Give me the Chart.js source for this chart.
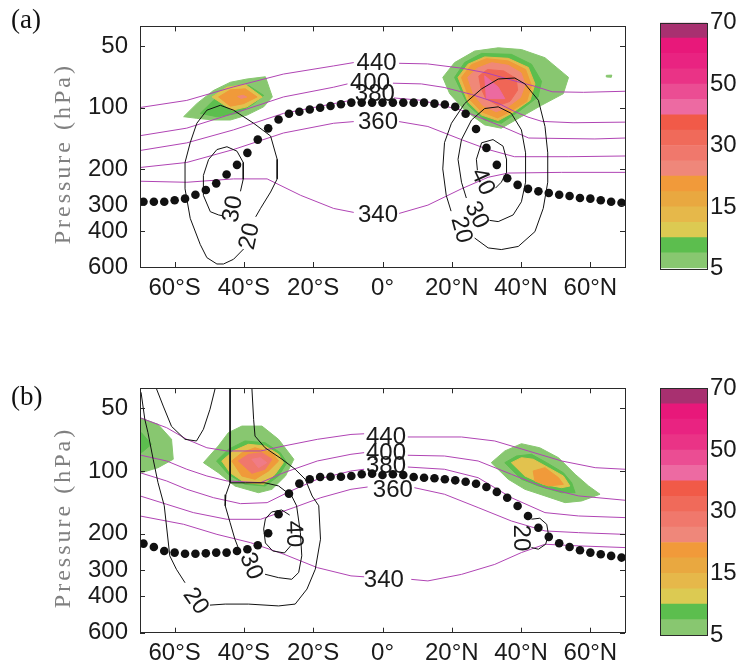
<!DOCTYPE html>
<html>
<head>
<meta charset="utf-8">
<script src="https://cdn.jsdelivr.net/npm/chart.js@4.4.1/dist/chart.umd.min.js"></script>
<style>
  body { margin: 0; background: #fff; }
  #wrap { position: relative; width: 741px; height: 669px; }
  canvas { position: absolute; }
</style>
</head>
<body>
<div id="wrap">
  <canvas id="mapA" width="650" height="320" style="left:0;top:0"></canvas>
  <canvas id="mapB" width="650" height="329" style="left:0;top:340px"></canvas>
  <canvas id="barA" width="101" height="300" style="left:640px;top:0"></canvas>
  <canvas id="barB" width="101" height="329" style="left:640px;top:340px"></canvas>
</div>
<script>
// axes
const latTicks = [-60, -40, -20, 0, 20, 40, 60];
const latTickLabels = ['60°S', '40°S', '20°S', '0°', '20°N', '40°N', '60°N'];
const presTicks = [50, 100, 200, 300, 400, 600];

// colour bar (bottom to top), labels sit on band edges
const cbColors = ['#88C770', '#5CBE4E', '#DCCA52', '#E6B84A', '#E9A840', '#F19A3A',
                  '#EF877A', '#F0786C', '#F06A5A', '#F15A48',
                  '#ED6AA2', '#EB4D93', '#EA3386', '#E92381', '#E8187A', '#A83070'];
const cbTickPos = [0, 4, 8, 12, 16];
const cbTickLabels = ['5', '15', '30', '50', '70'];

// tropopause (dots)
const tropLat = [-69, -66, -63, -60, -57, -54, -51, -48, -45, -42, -39, -36, -33, -30, -27, -24, -21, -18, -15, -12, -9, -6, -3,
                 0, 3, 6, 9, 12, 15, 18, 21, 24, 27, 30, 33, 36, 39, 42, 45, 48, 51, 54, 57, 60, 63, 66, 69];
const tropA = [288, 288, 288, 283, 278, 266, 252, 234, 212, 190, 166, 143, 126, 114, 107, 104.5, 102, 100, 98, 96, 94.3, 94.3, 94.3,
               94.3, 94.3, 94.3, 94.3, 94.3, 95.4, 96.4, 98.9, 107, 127, 157, 190, 221, 238, 249, 256, 261, 266, 270, 276, 278, 283, 288, 291];
const tropB = [223.6, 232, 242.5, 247, 250, 250, 249, 247, 247, 242.5, 238, 227.5, 199.4, 161.6, 128.5, 115, 109.6, 106.9, 106.5, 106.5, 105.7, 103.7, 103,
               104.5, 103.7, 104.5, 106.9, 107.7, 108.4, 109.6, 110.9, 112.6, 115.1, 119.4, 126.1, 134.4, 147.3, 164.6, 187.6, 207.5, 222.6, 232, 240.6, 247, 251.5, 256.2, 261];

// isentropes (K), [lat, hPa], split where the label sits
const thA440 = [[[-70, 99.7], [-56.5, 92], [-43, 79], [-28.6, 68.4], [-14.1, 62.4], [-8.3, 60.1]],
                [[4.8, 60.6], [13, 61], [22.8, 64], [30, 67.5], [37, 73], [44, 78.5], [49, 83.5], [58, 84], [70, 83]]];
const thA400 = [[[-70, 136.9], [-56.5, 125.7], [-43, 106.5], [-28.6, 88.5], [-14.1, 79.3], [-10.1, 76.4]],
                [[3, 75.8], [11.2, 76.4], [17.8, 79.5], [25.7, 86], [33.4, 95], [38, 104], [42, 111], [46, 116.5], [55, 118.3], [70, 117.5]]];
const thA380 = [[[-70, 161.7], [-56.5, 148.4], [-43, 128.2], [-28.6, 106.5], [-14.1, 95.4], [-9.1, 91.9]],
                [[3.3, 89.5], [11.2, 91.9], [22.8, 102.7], [34.3, 123], [42.2, 140.5], [61.3, 142], [70, 140.5]]];
const thA360 = [[[-70, 195.8], [-56.5, 185], [-43, 159.9], [-28.6, 132.8], [-14.1, 119], [-8.3, 116.8]],
                [[4.8, 116.8], [13.1, 123.4], [22.8, 143.1], [30.5, 159.9], [38.1, 173.4], [53.8, 173.4], [70, 172]]];
const thA340 = [[[-70, 228.5], [-56.5, 231.2], [-43, 222.6], [-33.3, 222.6], [-23.6, 267.9], [-14.1, 310.4], [-8.3, 324.6]],
                [[4.8, 328.3], [13.1, 299], [22.8, 248.8], [30.5, 218.5], [36.3, 208.4], [51.7, 206.8], [70, 206.8]]];

const thB440 = [[[-70, 55.4], [-62.3, 61.9], [-56.5, 70.4], [-50.7, 77.3], [-44.9, 80.1], [-35.2, 80.1], [-28.5, 75.8], [-18.8, 70.4], [-9.1, 66.7], [-5.3, 66.2]],
                [[7.3, 68.6], [22.8, 68.6], [32.4, 71.7], [42.1, 80.1], [51.7, 89.5], [61.4, 96.4], [70, 98.1]]];
const thB400 = [[[-70, 83.8], [-62.3, 89.5], [-56.5, 98.1], [-50.7, 105.7], [-44.9, 111.7], [-35.2, 113.8], [-28.5, 101.9], [-18.8, 89.5], [-9.1, 83.1], [-5.3, 81.6]],
                [[7.3, 84], [17.9, 84.7], [27.6, 89.5], [37.2, 103.7], [46.9, 120.3], [56.6, 131.8], [70, 138.3]]];
const thB380 = [[[-70, 101.9], [-62.3, 111.7], [-56.5, 122.5], [-48.8, 134.4], [-41, 143.6], [-33.3, 142], [-26.5, 124.8], [-18.8, 109.6], [-9.1, 100], [-5.3, 98.1]],
                [[7.3, 95.7], [17.9, 98.1], [27.6, 107.7], [37.2, 134.4], [46.9, 158.6], [56.6, 164.6], [70, 167.6]]];
const thB360 = [[[-70, 131.8], [-62.3, 144.6], [-54.6, 158.6], [-44.9, 170.8], [-35.2, 170.8], [-25.6, 150], [-17.8, 134.4], [-9.1, 122.5], [-4.3, 119.4]],
                [[9.2, 120.3], [17.9, 129.4], [27.6, 150], [37.2, 174], [46.9, 194.3], [56.6, 198], [70, 201.8]]];
const thB340 = [[[-70, 164.6], [-57.4, 180.5], [-47.8, 201.8], [-38.1, 221.2], [-28.5, 251.3], [-18.8, 291.8], [-9.1, 319.7], [-5.3, 323]],
                [[8.3, 332.3], [13.1, 338], [22.8, 314.4], [32.4, 281.5], [40.1, 246.9], [46.9, 225.2], [56.6, 229.3], [70, 233.6]]];

// zonal wind contours (m/s)
const uA_S20 = [[[-40.1, 490], [-43, 550], [-45.9, 580], [-47.8, 580], [-50.7, 540], [-52.6, 466], [-55.5, 347], [-57, 249], [-57, 185], [-55.5, 148],
                 [-53.6, 119], [-50.7, 102.7], [-46.8, 97.2], [-43, 102.7], [-37.2, 119], [-32.3, 137.4], [-30.4, 178.6], [-30.4, 222.6], [-32.3, 258],
                 [-35.2, 310], [-36.6, 341]]];
const uA_S30 = [[[-46.2, 337], [-47.3, 334], [-49.7, 322], [-51.7, 268], [-51.7, 214], [-50.2, 179], [-47.8, 160], [-44.9, 155], [-42, 163],
                 [-40.2, 185], [-40.2, 223], [-41, 256]]];
const uA_N20 = [[[26.6, 433], [30.5, 484], [34.3, 493], [39.2, 476], [44, 403], [46.4, 310], [47.7, 231], [47.7, 166], [46.9, 123.4], [45, 91.9],
                 [41.1, 76.4], [38.2, 71.5], [33.4, 72.3], [28.6, 80.8], [23.7, 95.4], [19.9, 119], [17.9, 148], [17.4, 199], [18.4, 268], [19.8, 320]]];
const uA_N30 = [[[30.9, 355], [33.4, 360], [37.7, 334], [40.1, 288], [41.3, 231], [41.3, 166], [40.1, 128.2], [37.2, 106.5], [33.4, 98.9],
                 [29.5, 100.8], [25.7, 114.7], [22.8, 143], [21.8, 178.6], [22.8, 231], [24.2, 276]]];
const uA_N40 = [[[27.4, 202], [27.1, 178.6], [28.6, 148.3], [31.9, 143], [34.8, 154], [35.8, 178.6], [35.8, 207], [34.3, 231], [32.6, 247]]];

const uB_S20 = [[[-69.7, 41.8], [-68.6, 56.5], [-67.7, 65.4], [-66.2, 87.8], [-64.8, 113.8], [-63, 147], [-61.4, 256], [-59.5, 297], [-57, 345]],
                [[-49.8, 442], [-45.4, 437], [-38.7, 437], [-30, 446], [-25.2, 437], [-21.8, 370], [-19.4, 297], [-17.9, 213], [-18.4, 147],
                 [-20.3, 132], [-22.3, 109.6], [-25.2, 98.1], [-29, 87.8], [-33.9, 77.3], [-36.8, 67.9], [-37.2, 56.5], [-37.7, 40]]];
const uB_S30 = [[[-44, 40], [-44, 57.5], [-44, 89.5], [-44, 114], [-45.2, 130], [-45.4, 147], [-44, 177], [-42.6, 213], [-41.1, 247]],
                [[-33.9, 314], [-30, 326], [-26.2, 332], [-24.2, 308], [-23.3, 256], [-23.7, 198], [-24.8, 147], [-26.2, 132], [-30, 118],
                 [-33.9, 114], [-39.6, 114], [-44, 114]]];
const uB_S40 = [[[-26.5, 229], [-28.3, 248], [-31.7, 242.5], [-33.8, 222], [-34.3, 190], [-33.8, 170], [-32, 157.5], [-29.1, 154], [-26.8, 163]],
                [[-65.3, 40], [-63.3, 48.7], [-60.9, 61], [-57, 70.4], [-53.7, 71.7], [-51.7, 63], [-49.8, 50.5], [-48.3, 40]]];
const uB_N20 = [[[43, 170.6], [45.4, 168.8], [47.4, 180.5], [47.9, 201.8], [47.1, 225.2], [45, 237.9], [43, 233.6]]];

// shaded wind-speed patches, outer level first
const spdA_S1 = [[-57.4, 110.5], [-53.6, 95.4], [-48.8, 82.3], [-43.9, 75], [-39.1, 72.3], [-33.8, 70.5], [-31.8, 88.5], [-34.3, 98.9], [-39.1, 108.5], [-43.9, 114.7], [-48.8, 114.7], [-53.6, 112.6]];
const spdA_S2 = [[-52.6, 106.5], [-48.8, 92], [-43.9, 80.8], [-38.6, 77.9], [-34.3, 87], [-37.2, 95.4], [-42, 106.5], [-47.8, 110.5]];
const spdA_S3 = [[-49.2, 88.5], [-44.9, 79.3], [-39.6, 77], [-34.7, 88.5], [-39.1, 98.9], [-43.4, 102.7]];
const spdA_S4 = [[-47.3, 88.5], [-43.9, 81.7], [-39.6, 80.8], [-36.2, 88.5], [-40.1, 95.4], [-43.9, 98.2]];
const spdA_S5 = [[-41.8, 88], [-40.2, 86.8], [-39.2, 88.6], [-40.8, 90]];

const spdA_N1 = [[17.4, 71], [20.8, 60.1], [26.6, 52.8], [33.4, 50.9], [40.1, 51.9], [46.9, 56.9], [53.7, 71], [52.2, 85.3], [45.9, 97.2], [40.1, 110.5], [34.3, 125.8], [29.5, 121.2], [23.7, 102.7], [19.4, 85.3]];
const spdA_N2 = [[20.8, 71], [23.7, 60.1], [28.6, 54.2], [37.2, 54.8], [43, 61.2], [45.9, 74.2], [44.9, 88.5], [39.2, 104.5], [34.3, 119], [29.5, 114.7], [24.7, 97.2]];
const spdA_N3 = [[21.8, 71], [24.7, 61.2], [29.5, 56.4], [36.3, 57.3], [42.1, 63.5], [44, 76.4], [42.6, 91.9], [37.2, 106.5], [33.4, 115.5], [28.6, 108.5], [24.7, 93.6]];
const spdA_N4 = [[22.8, 71], [25.7, 61.5], [30, 57.5], [36.3, 59], [41.3, 65], [43, 78], [41.6, 93], [36.8, 104.5], [33.2, 112], [28.6, 104.5], [25.2, 91]];
const spdA_N5 = [[24.6, 71], [27.4, 64], [31.5, 60.2], [36.3, 62], [40, 67.5], [41.2, 77], [39.8, 89], [35.8, 100], [32.8, 104.5], [29, 97.5], [26.3, 86]];
const spdA_N6 = [[27.8, 70], [30.3, 65], [35, 66], [38.6, 72], [39, 82], [36.8, 93], [33.4, 97.5], [29.8, 90], [28.4, 80]];
const spdA_N7 = [[29.5, 69.7], [30, 90.2], [35.3, 90.2], [33.4, 79.3]];
const spdA_N8 = [[64.6, 69.4], [66.2, 69.2], [66, 70.9], [64.7, 70.7]];

const spdB_W1 = [[-72, 54], [-64.8, 59.6], [-60.9, 70.4], [-60.4, 87.8], [-64.8, 96.4], [-69.6, 101.9], [-72, 103]];
const spdB_W2 = [[-72, 62], [-69.6, 65.4], [-66.7, 74.4], [-69.6, 81.7], [-72, 84]];
const spdB_S1 = [[-51.7, 91.2], [-47.4, 75.8], [-44.5, 65.4], [-40.6, 60.8], [-34.8, 60.8], [-30, 70.4], [-25.6, 87.8], [-28, 105.7], [-31.9, 122.5], [-35.8, 127.2], [-42.6, 118.1], [-47.4, 101.9]];
const spdB_S2 = [[-47.9, 89.5], [-44.5, 78.7], [-39.7, 71.7], [-33.9, 73.1], [-29.5, 81.7], [-27.6, 91.2], [-30, 105.7], [-33.9, 118.1], [-39.7, 115.9], [-44.5, 103.7]];
const spdB_S3 = [[-46.4, 89.5], [-43, 80], [-38.7, 74.4], [-33.9, 75.8], [-30, 83.1], [-28.6, 91.2], [-31, 103.7], [-34.3, 115.9], [-39.7, 113.8], [-44, 101.9]];
const spdB_S4 = [[-43.5, 89.5], [-40.6, 81.7], [-36.8, 77.3], [-31.9, 81.7], [-30, 89.5], [-32.9, 100], [-36.8, 109.6], [-40.6, 105.7]];
const spdB_S5 = [[-41.6, 89.5], [-38.7, 83.1], [-34.8, 81.7], [-31.9, 87.8], [-33.9, 98.1], [-37.7, 102.6]];
const spdB_S6 = [[-37.7, 87.8], [-35.3, 86.3], [-33.4, 91.2], [-35.8, 96.4]];
const spdB_N1 = [[31.4, 91.2], [35.3, 80.1], [40.1, 73.9], [45.4, 77.3], [50.8, 86.3], [55.6, 103.7], [59.5, 118.1], [62.8, 129.4], [57.5, 139.4], [52.7, 142], [46.9, 131.8], [41.1, 122.5], [36.3, 109.6]];
const spdB_N2 = [[35.3, 91.2], [38.7, 84.7], [43, 83.1], [47.4, 91.2], [52.2, 101.9], [54.6, 113.8], [55.6, 127.2], [51.7, 127.2], [45, 118.1], [40.1, 109.6]];
const spdB_N3 = [[37.2, 91.2], [40.1, 86.3], [43.5, 87.8], [47.9, 96.4], [52.2, 105.7], [54.1, 118.1], [51.7, 120.3], [46.4, 115.9], [41.1, 105.7]];
const spdB_N4 = [[43.5, 100], [46.9, 96.4], [50.8, 107.7], [52.2, 115.9], [47.9, 118.1], [44, 111.7]];

// contour labels: [lat, hPa, text, angle]
const labelsA = [[-1.7, 59.9, '440', 0], [-3.6, 74.7, '400', 0], [-2.2, 85.3, '380', 0], [-1.3, 116.4, '360', 0], [-1.3, 333, '340', 0],
                 [-38.6, 424, '20', -78], [-43.4, 312, '30', -80], [29.1, 229, '40', 65], [27.4, 333, '30', 65], [23, 394, '20', 75]];
const labelsB = [[1, 67.9, '440', 0], [1, 81.6, '400', 0], [1, 93.6, '380', 0], [3, 122.5, '360', 0], [0.4, 332, '340', 0],
                 [-53.7, 421, '20', 55], [-37.7, 286, '30', 68], [-25.4, 201, '40', 88], [40.1, 210, '20', 90]];

const SANS = '"Liberation Sans", Arial, sans-serif';
const SERIF = '"Liberation Serif", "Times New Roman", serif';
const MAGENTA = '#B044B4';

function lineSets(segs, color, order) {
    return segs.map(s => ({
        data: s.map(p => ({x: p[0], y: p[1]})),
        borderColor: color, borderWidth: 1, pointRadius: 0,
        fill: false, tension: 0, order: order
    }));
}

function blobSet(pts, color, order) {
    const closed = pts.concat([pts[0]]);
    return {
        data: closed.map(p => ({x: p[0], y: p[1]})),
        borderColor: color, backgroundColor: color, borderWidth: 1,
        pointRadius: 0, fill: 'shape', tension: 0, order: order
    };
}

function tropSet(vals) {
    return {
        data: tropLat.map((v, i) => ({x: v, y: vals[i]})),
        showLine: false, pointRadius: 4.3, pointBorderWidth: 0,
        pointBackgroundColor: '#111', borderColor: '#111', order: 0, trop: true
    };
}

function drawLabels(chart, list) {
    const {ctx, scales: {x, y}} = chart;
    ctx.save();
    ctx.font = '24px ' + SANS;
    ctx.fillStyle = '#1a1a1a';
    ctx.textAlign = 'center';
    ctx.textBaseline = 'middle';
    list.forEach(l => {
        ctx.save();
        ctx.translate(x.getPixelForValue(l[0]), y.getPixelForValue(l[1]));
        ctx.rotate(l[3] * Math.PI / 180);
        ctx.fillText(l[2], 0, 1);
        ctx.restore();
    });
    ctx.restore();
}

const framePlugin = {
    id: 'frame',
    beforeDatasetDraw(chart, args, opts) {
        if (chart.data.datasets[args.index].trop) drawLabels(chart, opts.labels);
    },
    afterDatasetsDraw(chart, args, opts) {
        const {ctx, chartArea: a, scales: {x, y}} = chart;
        ctx.save();
        ctx.strokeStyle = '#2a2a2a';
        ctx.lineWidth = 1;
        ctx.strokeRect(Math.round(a.left) + 0.5, Math.round(a.top) + 0.5, Math.round(a.width), Math.round(a.height));
        ctx.beginPath();
        latTicks.forEach(v => {
            const px = Math.round(x.getPixelForValue(v)) + 0.5;
            ctx.moveTo(px, a.bottom); ctx.lineTo(px, a.bottom - 5);
            ctx.moveTo(px, a.top); ctx.lineTo(px, a.top + 5);
        });
        presTicks.forEach(v => {
            const py = Math.round(y.getPixelForValue(v)) + 0.5;
            ctx.moveTo(a.left, py); ctx.lineTo(a.left + 5, py);
            ctx.moveTo(a.right, py); ctx.lineTo(a.right - 5, py);
        });
        ctx.stroke();
        ctx.restore();

        // axis title
        ctx.save();
        ctx.fillStyle = '#808080';
        ctx.font = '24px ' + SERIF;
        ctx.letterSpacing = '3px';
        ctx.translate(64, (a.top + a.bottom) / 2 + 7);
        ctx.rotate(-Math.PI / 2);
        ctx.textAlign = 'center';
        ctx.textBaseline = 'middle';
        ctx.fillText('Pressure (hPa)', 0, 0);
        ctx.restore();

        // panel letter
        ctx.save();
        ctx.fillStyle = '#111';
        ctx.font = '27px ' + SERIF;
        ctx.textBaseline = 'middle';
        ctx.fillText(opts.letter, 11, opts.letterY);
        ctx.restore();
    }
};

function makeMap(id, datasets, padTop, xAxisH, xPad, labels, letter, letterY) {
    return new Chart(document.getElementById(id), {
        type: 'line',
        data: {datasets: datasets},
        options: {
            responsive: false,
            animation: false,
            events: [],
            layout: {padding: {left: 0, right: 25, top: padTop, bottom: 0}},
            plugins: {
                legend: {display: false},
                tooltip: {enabled: false},
                frame: {labels: labels, letter: letter, letterY: letterY}
            },
            scales: {
                x: {
                    type: 'linear', min: -70, max: 70,
                    grid: {display: false, drawTicks: false},
                    border: {display: false},
                    afterBuildTicks: s => { s.ticks = latTicks.map(v => ({value: v})); },
                    afterFit: s => { s.height = xAxisH; },
                    ticks: {
                        padding: xPad, maxRotation: 0, autoSkip: false, color: '#1a1a1a',
                        font: {family: SANS, size: 24},
                        callback: v => latTickLabels[latTicks.indexOf(v)]
                    }
                },
                y: {
                    type: 'logarithmic', reverse: true, min: 40, max: 600,
                    grid: {display: false, drawTicks: false},
                    border: {display: false},
                    afterBuildTicks: s => { s.ticks = presTicks.map(v => ({value: v})); },
                    afterFit: s => { s.width = 140; },
                    ticks: {
                        padding: 12, color: '#1a1a1a',
                        font: {family: SANS, size: 24},
                        callback: v => String(v)
                    }
                }
            }
        },
        plugins: [framePlugin]
    });
}

const barFrame = {
    id: 'barFrame',
    afterDatasetsDraw(chart) {
        const {ctx, chartArea: a} = chart;
        ctx.save();
        ctx.strokeStyle = '#2a2a2a';
        ctx.lineWidth = 1;
        ctx.strokeRect(Math.round(a.left) + 0.5, Math.round(a.top) + 0.5, Math.round(a.width), Math.round(a.height));
        ctx.restore();
    }
};

function makeBar(id, padTop, padBottom) {
    return new Chart(document.getElementById(id), {
        type: 'bar',
        data: {
            labels: [''],
            datasets: cbColors.map(c => ({
                data: [1], backgroundColor: c, borderWidth: 0,
                barPercentage: 1, categoryPercentage: 1, stack: 'cb'
            }))
        },
        options: {
            responsive: false,
            animation: false,
            events: [],
            layout: {padding: {left: 20, right: 0, top: padTop, bottom: padBottom}},
            plugins: {legend: {display: false}, tooltip: {enabled: false}},
            scales: {
                x: {display: false, stacked: true},
                y: {
                    stacked: true, position: 'right', min: 0, max: 16,
                    grid: {display: false, drawTicks: false},
                    border: {display: false},
                    afterBuildTicks: s => { s.ticks = cbTickPos.map(v => ({value: v})); },
                    afterFit: s => { s.width = 34; },
                    ticks: {
                        padding: 3, color: '#1a1a1a',
                        font: {family: SANS, size: 24},
                        callback: v => cbTickLabels[cbTickPos.indexOf(v)]
                    }
                }
            }
        },
        plugins: [barFrame]
    });
}

// panel (a)
const setsA = [tropSet(tropA)]
    .concat(lineSets(uA_S20, '#111', 3), lineSets(uA_S30, '#111', 3), lineSets(uA_N20, '#111', 3),
            lineSets(uA_N30, '#111', 3), lineSets(uA_N40, '#111', 3))
    .concat(lineSets(thA440, MAGENTA, 5), lineSets(thA400, MAGENTA, 5), lineSets(thA380, MAGENTA, 5),
            lineSets(thA360, MAGENTA, 5), lineSets(thA340, MAGENTA, 5))
    .concat([
        blobSet(spdA_S5, '#F08878', 21), blobSet(spdA_S4, '#F09A3A', 22), blobSet(spdA_S3, '#E2C24E', 23),
        blobSet(spdA_S2, '#5CBE4E', 24), blobSet(spdA_S1, '#88C770', 25),
        blobSet(spdA_N7, '#EC6AA0', 21), blobSet(spdA_N6, '#F06656', 22), blobSet(spdA_N5, '#F08878', 23),
        blobSet(spdA_N4, '#F09A3A', 24), blobSet(spdA_N3, '#E6B84A', 25), blobSet(spdA_N2, '#5CBE4E', 26),
        blobSet(spdA_N1, '#88C770', 27), blobSet(spdA_N8, '#88C770', 27)
    ]);

// panel (b)
const setsB = [tropSet(tropB)]
    .concat(lineSets(uB_S20, '#111', 3), lineSets(uB_S30, '#111', 3), lineSets(uB_S40, '#111', 3), lineSets(uB_N20, '#111', 3))
    .concat(lineSets(thB440, MAGENTA, 5), lineSets(thB400, MAGENTA, 5), lineSets(thB380, MAGENTA, 5),
            lineSets(thB360, MAGENTA, 5), lineSets(thB340, MAGENTA, 5))
    .concat([
        blobSet(spdB_W2, '#5CBE4E', 24), blobSet(spdB_W1, '#88C770', 25),
        blobSet(spdB_S6, '#F07C86', 20), blobSet(spdB_S5, '#F0786C', 21), blobSet(spdB_S4, '#F09A3A', 22),
        blobSet(spdB_S3, '#E2C24E', 23), blobSet(spdB_S2, '#5CBE4E', 24), blobSet(spdB_S1, '#88C770', 25),
        blobSet(spdB_N4, '#F09A3A', 22), blobSet(spdB_N3, '#E2C24E', 23), blobSet(spdB_N2, '#5CBE4E', 24),
        blobSet(spdB_N1, '#88C770', 25)
    ]);

makeMap('mapA', setsA, 23, 53, 7, labelsA, '(a)', 21);
makeMap('mapB', setsB, 48.3, 36.3, 6, labelsB, '(b)', 58);
makeBar('barA', 22.7, 31.7);
makeBar('barB', 48.3, 34);
</script>
</body>
</html>
